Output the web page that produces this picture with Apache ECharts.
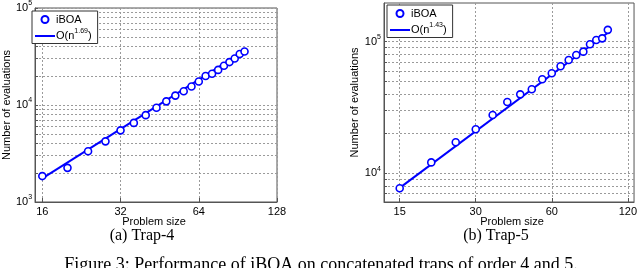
<!DOCTYPE html>
<html><head><meta charset="utf-8">
<script src="https://cdn.jsdelivr.net/npm/echarts@6/dist/echarts.min.js"></script>
<style>html,body{margin:0;padding:0;background:#fff}#c{width:640px;height:268px}</style>
</head><body><div id="c"></div>
<script>
// Trap-4 (left panel)
var trap4Sizes = [16, 20, 24, 28, 32, 36, 40, 44, 48, 52, 56, 60, 64, 68, 72, 76, 80, 84, 88, 92, 96];
var trap4Evals = [1850, 2250, 3330, 4220, 5480, 6540, 7860, 9360, 10900, 12500, 13850, 15500, 17500, 19900, 21000, 23000, 25400, 27700, 30200, 33500, 35600];
var trap4FitSizes = [16, 96];
var trap4FitEvals = [1750, 36200];
var trap4XTicks = [16, 32, 64, 128];
var trap4YTicks = [1000, 10000, 100000];
var trap4YMinor = [2000, 3000, 4000, 5000, 6000, 7000, 8000, 9000, 20000, 30000, 40000, 50000, 60000, 70000, 80000, 90000];
// Trap-5 (right panel)
var trap5Sizes = [15, 20, 25, 30, 35, 40, 45, 50, 55, 60, 65, 70, 75, 80, 85, 90, 95, 100];
var trap5Evals = [7690, 12100, 17200, 21600, 27700, 34800, 39800, 43500, 51800, 57500, 65000, 72600, 79300, 84000, 95500, 103000, 106000, 123000];
var trap5FitSizes = [15, 100];
var trap5FitEvals = [7750, 117000];
var trap5XTicks = [15, 30, 60, 120];
var trap5YTicks = [10000, 100000];
var trap5YMinor = [7000, 8000, 9000, 20000, 30000, 40000, 50000, 60000, 70000, 80000, 90000, 200000];

var BLUE = '#0000ff';
var SANS = 'Liberation Sans, Arial, sans-serif';
var SERIF = 'Liberation Serif, Times New Roman, serif';

function pairs(xs, ys) { return xs.map(function (x, i) { return [x, ys[i]]; }); }
function supLabel(v) { return '10{sup|' + Math.round(Math.log10(v)) + '}'; }
var gridLine = { show: true, lineStyle: { color: '#9a9a9a', type: [2, 2], width: 1 } };

function xAxisFor(idx, min, max, ticks) {
  return {
    type: 'log', logBase: 2, gridIndex: idx, min: min, max: max,
    axisLine: { show: true, onZero: false, lineStyle: { color: '#555' } },
    axisTick: { show: true, inside: true, length: 4, customValues: ticks, lineStyle: { color: '#555' } },
    axisLabel: { customValues: ticks, color: '#000', fontFamily: SANS, fontSize: 11, margin: 4 },
    splitLine: gridLine
  };
}
function yAxisFor(idx, min, max, ticks, minor, gap) {
  return {
    type: 'log', logBase: 10, gridIndex: idx, min: min, max: max,
    axisLine: { show: true, onZero: false, lineStyle: { color: '#555' } },
    axisTick: { show: true, inside: true, length: 3, customValues: ticks.concat(minor), lineStyle: { color: '#555' } },
    axisLabel: {
      customValues: ticks, color: '#000', fontFamily: SANS, fontSize: 11, margin: 3,
      formatter: supLabel,
      rich: { sup: { fontSize: 7, fontFamily: SANS, color: '#000', padding: [0, 0, 9, 0] } }
    },
    splitLine: gridLine,
    name: 'Number of evaluations', nameLocation: 'middle', nameGap: gap,
    nameTextStyle: { color: '#000', fontFamily: SANS, fontSize: 11 }
  };
}
function legendFor(left, top, fitName, sup) {
  return {
    left: left, top: top, orient: 'vertical', itemWidth: 20, itemHeight: 7, itemGap: 3,
    padding: [3, 6, 2, 2], borderColor: '#333', borderWidth: 1, backgroundColor: '#fff',
    data: ['iBOA', { name: fitName, itemStyle: { opacity: 0, color: 'transparent', borderWidth: 0 } }],
    formatter: function (n) { return n === fitName ? 'O(n{sup|' + sup + '})' : n; },
    textStyle: { color: '#000', fontFamily: SANS, fontSize: 11, padding: [0, 0, 0, -4],
      rich: { sup: { fontSize: 7, fontFamily: SANS, color: '#000', padding: [0, 0, 9, 0] } } },
    selectedMode: false
  };
}
function label(x, y, text, font) {
  return { type: 'text', x: x, y: y, style: { text: text, font: font, fill: '#000', textAlign: 'center', textVerticalAlign: 'middle' } };
}

var chart = echarts.init(document.getElementById('c'), null, { renderer: 'canvas' });
chart.setOption({
  animation: false,
  backgroundColor: '#fff',
  grid: [
    { left: 30, top: 7, width: 247, height: 195, show: true, borderColor: '#555', borderWidth: 1, containLabel: false },
    { left: 384, top: 3, width: 253, height: 199, show: true, borderColor: '#555', borderWidth: 1, containLabel: false }
  ],
  xAxis: [ xAxisFor(0, 15, 128, trap4XTicks), xAxisFor(1, 13, 127, trap5XTicks) ],
  yAxis: [ yAxisFor(0, 1000, 100000, trap4YTicks, trap4YMinor, 21), yAxisFor(1, 6050, 196800, trap5YTicks, trap5YMinor, 24) ],
  legend: [ legendFor(32, 11, 'O(n^1.69)', '1.69'), legendFor(387, 5, 'O(n^1.43)', '1.43') ],
  series: [
    { name: 'O(n^1.69)', type: 'line', xAxisIndex: 0, yAxisIndex: 0, data: pairs(trap4FitSizes, trap4FitEvals),
      symbol: 'none', lineStyle: { color: BLUE, width: 2 }, itemStyle: { color: BLUE }, z: 2 },
    { name: 'iBOA', type: 'scatter', xAxisIndex: 0, yAxisIndex: 0, data: pairs(trap4Sizes, trap4Evals),
      symbol: 'circle', symbolSize: 7, itemStyle: { color: '#fff', borderColor: BLUE, borderWidth: 1.6, opacity: 1 }, z: 3 },
    { name: 'O(n^1.43)', type: 'line', xAxisIndex: 1, yAxisIndex: 1, data: pairs(trap5FitSizes, trap5FitEvals),
      symbol: 'none', lineStyle: { color: BLUE, width: 2 }, itemStyle: { color: BLUE }, z: 2 },
    { name: 'iBOA', type: 'scatter', xAxisIndex: 1, yAxisIndex: 1, data: pairs(trap5Sizes, trap5Evals),
      symbol: 'circle', symbolSize: 7, itemStyle: { color: '#fff', borderColor: BLUE, borderWidth: 1.6, opacity: 1 }, z: 3 }
  ],
  graphic: [
    label(154, 222, 'Problem size', '11px ' + SANS),
    label(512, 222, 'Problem size', '11px ' + SANS),
    label(142, 236, '(a) Trap-4', '16px ' + SERIF),
    label(496, 236, '(b) Trap-5', '16px ' + SERIF),
    { type: 'text', x: 321, y: 274, style: { text: 'Figure 3: Performance of iBOA on concatenated traps of order 4 and 5.', font: '18px ' + SERIF, fill: '#000', textAlign: 'center', textVerticalAlign: 'bottom' } }
  ]
});
</script></body></html>
